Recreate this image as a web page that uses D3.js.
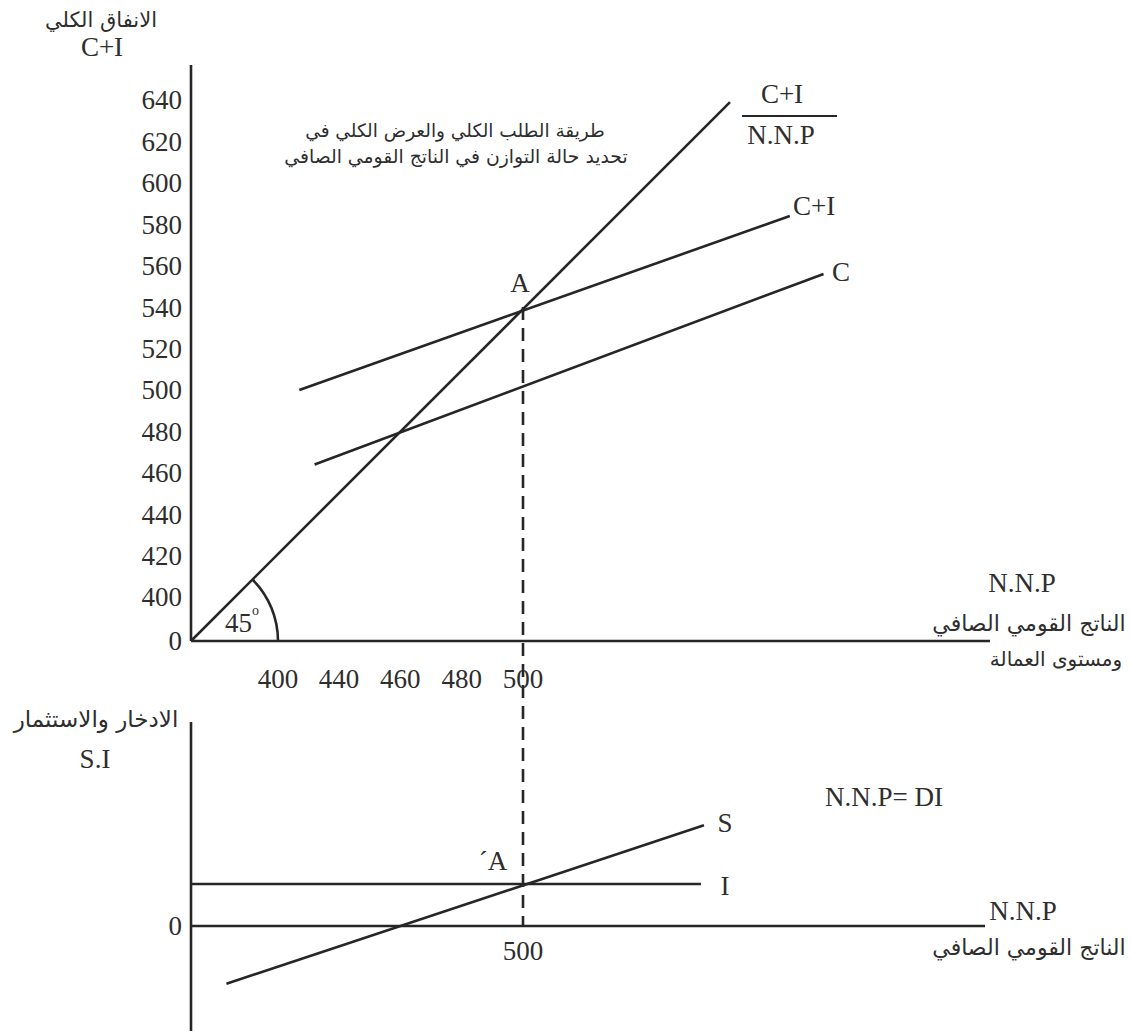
<!DOCTYPE html>
<html>
<head>
<meta charset="utf-8">
<script src="https://cdn.jsdelivr.net/npm/d3@7"></script>
<style>
  html, body { margin: 0; padding: 0; background: #fff; }
  svg { display: block; }
  .lat { font-family: "Liberation Serif", "Times New Roman", serif; fill: #2e2e2e; }
  .ar { font-family: "DejaVu Sans", sans-serif; fill: #2e2e2e; }
</style>
</head>
<body>
<svg id="chart" width="1131" height="1031"></svg>
<script>
// ---------- DATA ----------
const yTickValues = [0, 400, 420, 440, 460, 480, 500, 520, 540, 560, 580, 600, 620, 640];
const xTickValues = [400, 440, 460, 480, 500];
// upper panel lines: [NNP, spending]
const line45 = [[0, 0], [567.5, 639]];
const lineCI = [[414, 500], [587, 584]];
const lineC = [[424, 464], [598, 556]];
const equilibrium = [500, 540];
// lower panel lines: [NNP, saving/investment]
const lineS = [[163, -27.5], [559, 48]];
const lineI = [[0, 20], [558, 20]];
const lowerTicks = [500];

// ---------- SCALES ----------
const svg = d3.select("#chart");
const x = d3.scaleLinear().domain([0, 400, 440, 500]).range([191, 278, 339, 523]);
const yTop = d3.scaleLinear().domain([0, 400, 640]).range([641, 597, 100]);
const yBot = d3.scaleLinear().domain([0, 20]).range([926, 884]);

const stroke = "#262626";
const sw = 2.6;
const gLines = svg.append("g").attr("stroke", stroke).attr("stroke-width", sw).attr("fill", "none");

// axes (upper)
gLines.append("line").attr("x1", x(0)).attr("x2", x(0)).attr("y1", 65).attr("y2", yTop(0));
gLines.append("line").attr("x1", x(0)).attr("x2", 990).attr("y1", yTop(0)).attr("y2", yTop(0));
// axes (lower)
gLines.append("line").attr("x1", x(0)).attr("x2", x(0)).attr("y1", 722).attr("y2", 1031);
gLines.append("line").attr("x1", x(0)).attr("x2", 985).attr("y1", yBot(0)).attr("y2", yBot(0));

const lineTop = d3.line().x(d => x(d[0])).y(d => yTop(d[1]));
const lineBot = d3.line().x(d => x(d[0])).y(d => yBot(d[1]));

[line45, lineCI, lineC].forEach(l => gLines.append("path").attr("d", lineTop(l)));
[lineS, lineI].forEach(l => gLines.append("path").attr("d", lineBot(l)));

// 45 degree arc
const arc = d3.arc().innerRadius(87).outerRadius(87).startAngle(Math.PI / 4).endAngle(Math.PI / 2);
gLines.append("path").attr("d", arc()).attr("transform", `translate(${x(0)},${yTop(0)})`);

// dashed equilibrium line
gLines.append("line")
  .attr("x1", x(equilibrium[0])).attr("x2", x(equilibrium[0]))
  .attr("y1", yTop(equilibrium[1])).attr("y2", yBot(0))
  .attr("stroke-dasharray", "13,8");

// fraction bar
gLines.append("line").attr("x1", 742).attr("x2", 837).attr("y1", 116).attr("y2", 116).attr("stroke-width", 1.8);

// ---------- TEXT ----------
const fs = 27;
// y tick labels
svg.append("g").selectAll("text").data(yTickValues).join("text")
  .attr("class", "lat").attr("font-size", fs)
  .attr("x", 182).attr("y", d => yTop(d)).attr("dy", "0.35em")
  .attr("text-anchor", "end").text(d => d);
// x tick labels
svg.append("g").selectAll("text").data(xTickValues).join("text")
  .attr("class", "lat").attr("font-size", fs)
  .attr("x", d => x(d)).attr("y", 688)
  .attr("text-anchor", "middle").text(d => d);
// lower tick
svg.append("g").selectAll("text").data(lowerTicks).join("text")
  .attr("class", "lat").attr("font-size", fs)
  .attr("x", d => x(d)).attr("y", 960)
  .attr("text-anchor", "middle").text(d => d);
svg.append("text").attr("class", "lat").attr("font-size", fs)
  .attr("x", 182).attr("y", yBot(0)).attr("dy", "0.35em").attr("text-anchor", "end").text("0");

function lat(t, cx, by, anchor = "middle", size = fs) {
  return svg.append("text").attr("class", "lat").attr("font-size", size)
    .attr("x", cx).attr("y", by).attr("text-anchor", anchor).text(t);
}
function ar(t, cx, by, size) {
  return svg.append("text").attr("class", "ar").attr("font-size", size)
    .attr("x", cx).attr("y", by).attr("text-anchor", "middle").text(t);
}

ar("الانفاق الكلي", 101, 27, 21);
lat("C+I", 102, 56);
lat("C+I", 782, 103);
lat("N.N.P", 781, 144);
lat("C+I", 793, 215, "start");
lat("C", 841, 281);
lat("A", 520, 292);
ar("طريقة الطلب الكلي والعرض الكلي في", 455, 137, 18.5);
ar("تحديد حالة التوازن في الناتج القومي الصافي", 456, 163, 18.8);
lat("N.N.P", 1022, 592);
ar("الناتج القومي الصافي", 1029, 631, 22);
ar("ومستوى العمالة", 1056, 666, 20);
// 45 degree label
const deg = svg.append("text").attr("class", "lat").attr("font-size", fs)
  .attr("x", 242).attr("y", 632).attr("text-anchor", "middle");
deg.append("tspan").text("45");
deg.append("tspan").attr("font-size", 14).attr("dy", -17).text("o");

ar("الادخار والاستثمار", 96, 727, 23);
lat("S.I", 95, 768);
lat("N.N.P= DI", 884, 806);
lat("S", 725, 832);
lat("I", 725, 895);
// A-prime label
lat("\u00B4A", 493, 870);
lat("N.N.P", 1023, 920);
ar("الناتج القومي الصافي", 1029, 955, 22);
</script>
</body>
</html>
